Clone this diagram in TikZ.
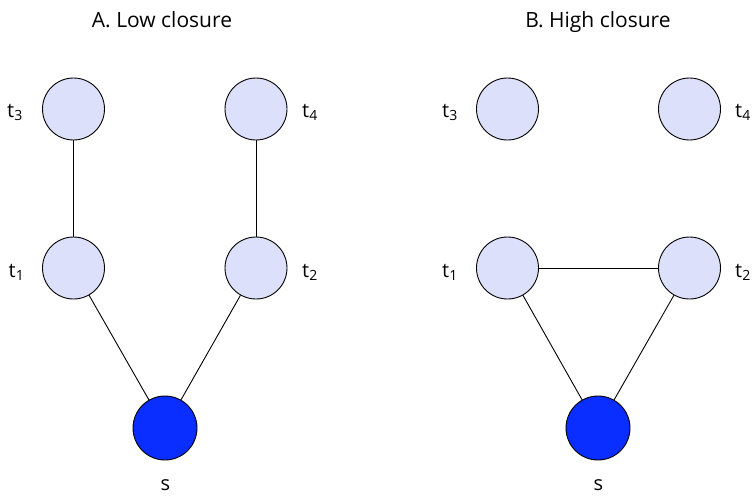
\documentclass[tikz,border=0pt]{standalone}
\usepackage{fontspec}
\setmainfont{Open Sans}
\definecolor{nodefill}{HTML}{DDE0FA}
\definecolor{seedfill}{HTML}{0A2EFF}
\newcommand\lsub[1]{\raisebox{-0.3ex}{\fontsize{14}{15}\selectfont #1}}
\begin{document}
\begin{tikzpicture}[x=1pt,y=-1pt,
  vert/.style={circle,draw=black,line width=0.9pt,fill=nodefill,minimum size=62pt,inner sep=0pt},
  seed/.style={circle,draw=black,line width=0.9pt,fill=seedfill,minimum size=64pt,inner sep=0pt},
  lbl/.style={font=\fontsize{20}{22}\selectfont,inner sep=0pt,anchor=base west},
  slbl/.style={font=\fontsize{20}{22}\selectfont,inner sep=0pt,anchor=base},
  ttl/.style={font=\fontsize{21}{24}\selectfont,inner sep=0pt,anchor=base},
  edge/.style={line width=0.9pt}]
\useasboundingbox (0,0) rectangle (753,496);
% Panel A
\node[ttl] (ta) at (162,27) {A. Low closure};
\node[vert] (a3) at (73.5,109) {};
\node[vert] (a4) at (256,109) {};
\node[vert] (a1) at (73.5,268) {};
\node[vert] (a2) at (256,268) {};
\node[seed] (as) at (165,428) {};
\node[lbl] (la3) at (7,117) {t\lsub{3}};
\node[lbl] (la4) at (302,117) {t\lsub{4}};
\node[lbl] (la1) at (8.5,277) {t\lsub{1}};
\node[lbl] (la2) at (302,277) {t\lsub{2}};
\node[slbl] (las) at (165.5,490) {s};
\draw[edge] (a3) -- (a1);
\draw[edge] (a4) -- (a2);
\draw[edge] (a1) -- (as);
\draw[edge] (a2) -- (as);
% Panel B
\node[ttl] (tb) at (598,27) {B. High closure};
\node[vert] (b3) at (507.5,109) {};
\node[vert] (b4) at (689.5,109) {};
\node[vert] (b1) at (507.5,268) {};
\node[vert] (b2) at (689.5,268) {};
\node[seed] (bs) at (598,428) {};
\node[lbl] (lb3) at (442,117) {t\lsub{3}};
\node[lbl] (lb4) at (735,117) {t\lsub{4}};
\node[lbl] (lb1) at (442,277) {t\lsub{1}};
\node[lbl] (lb2) at (735,277) {t\lsub{2}};
\node[slbl] (lbs) at (598.5,490) {s};
\draw[edge] (b1) -- (b2);
\draw[edge] (b1) -- (bs);
\draw[edge] (b2) -- (bs);
\end{tikzpicture}
\end{document}
